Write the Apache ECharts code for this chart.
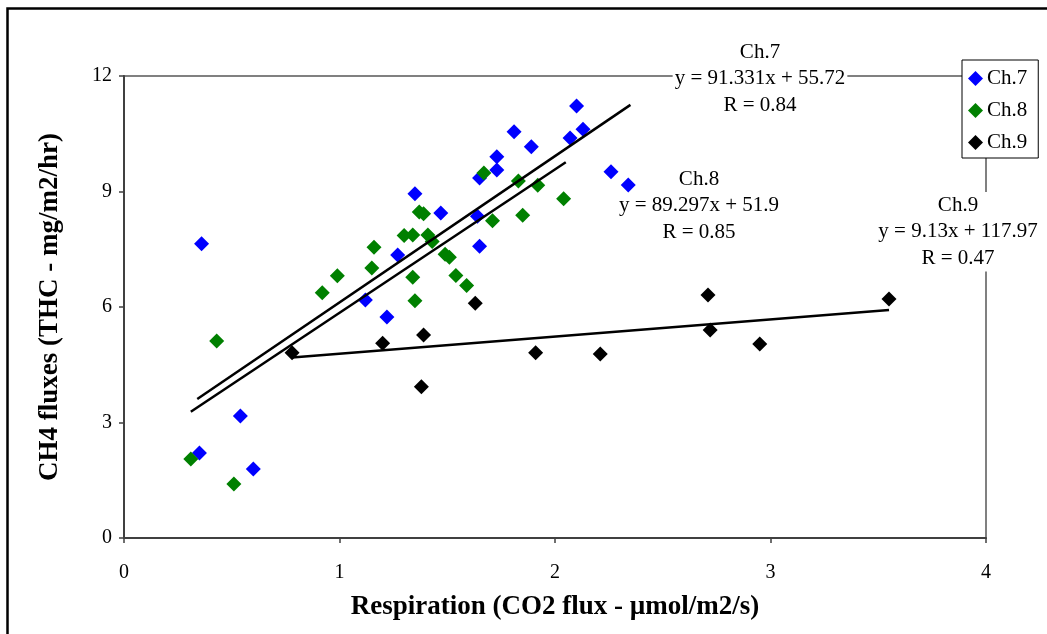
<!DOCTYPE html>
<html>
<head>
<meta charset="utf-8">
<script src="https://cdn.jsdelivr.net/npm/echarts/dist/echarts.min.js"></script>
<style>
  html, body { margin: 0; padding: 0; background: #fff; }
  #chart { width: 1047px; height: 634px; }
</style>
</head>
<body>
<div id="chart"></div>
<script>
// ---- Data ----
const seriesNames = ['Ch.7', 'Ch.8', 'Ch.9'];

const ch7X = [0.36, 0.35, 0.54, 0.60, 1.12, 1.22, 1.27, 1.35, 1.47, 1.64, 1.65, 1.65, 1.73, 1.73, 1.81, 1.89, 2.07, 2.10, 2.13, 2.26, 2.34];
const ch7Y = [7.64, 2.21, 3.17, 1.79, 6.18, 5.74, 7.35, 8.94, 8.44, 8.36, 9.35, 7.58, 9.90, 9.56, 10.55, 10.16, 10.39, 11.22, 10.62, 9.51, 9.17];

const ch8X = [0.31, 0.51, 0.43, 0.92, 0.99, 1.15, 1.16, 1.30, 1.34, 1.34, 1.35, 1.37, 1.39, 1.41, 1.43, 1.49, 1.51, 1.54, 1.59, 1.67, 1.71, 1.83, 1.85, 1.92, 2.04];
const ch8Y = [2.05, 1.40, 5.12, 6.37, 6.81, 7.01, 7.55, 7.86, 7.87, 6.77, 6.16, 8.47, 8.42, 7.87, 7.70, 7.37, 7.29, 6.82, 6.56, 9.48, 8.24, 9.27, 8.38, 9.16, 8.81];

const ch9X = [0.78, 1.20, 1.39, 1.38, 1.63, 1.91, 2.21, 2.71, 2.72, 2.95, 3.55];
const ch9Y = [4.81, 5.06, 5.27, 3.93, 6.10, 4.81, 4.78, 6.31, 5.40, 5.04, 6.21];

// Trend line end points (as drawn in the reference)
const trend7X = [0.34, 2.35];
const trend7Y = [3.61, 11.25];
const trend8X = [0.31, 2.05];
const trend8Y = [3.28, 9.76];
const trend9X = [0.78, 3.55];
const trend9Y = [4.69, 5.92];

const xTicks = [0, 1, 2, 3, 4];
const yTicks = [0, 3, 6, 9, 12];

const label7 = ['Ch.7', 'y = 91.331x + 55.72', 'R = 0.84'];
const label8 = ['Ch.8', 'y = 89.297x + 51.9', 'R = 0.85'];
const label9 = ['Ch.9', 'y = 9.13x + 117.97', 'R = 0.47'];

const xTitle = 'Respiration (CO2 flux - \u00b5mol/m2/s)';
const yTitle = 'CH4 fluxes (THC - mg/m2/hr)';

// ---- Build ----
const zip = (xs, ys) => xs.map((x, i) => [x, ys[i]]);
const FONT = '"Liberation Serif", "Times New Roman", serif';
const colors = ['#0000ff', '#008000', '#000000'];

const chart = echarts.init(document.getElementById('chart'), null, { renderer: 'canvas' });

function scatter(name, data, color) {
  return {
    name, type: 'scatter', data, symbol: 'diamond', symbolSize: 15,
    itemStyle: { color, opacity: 1 }, z: 2, silent: true
  };
}
function trend(data) {
  return {
    type: 'line', data, symbol: 'none', silent: true, z: 3,
    lineStyle: { color: '#000', width: 2.5 }
  };
}
function textBlock(lines, cx, top, bg) {
  return {
    type: 'text', x: cx, y: top, z: 50, silent: true,
    style: {
      text: lines.join('\n'), textAlign: 'center', textVerticalAlign: 'top',
      font: '21px ' + FONT, fill: '#000', lineHeight: 26.5,
      backgroundColor: bg ? '#fff' : 'transparent', padding: [0, 2]
    }
  };
}

const option = {
  backgroundColor: '#fff',
  animation: false,
  grid: {
    left: 124, right: 61, top: 76, bottom: 96,
    show: true, borderColor: '#808080', borderWidth: 2, backgroundColor: '#fff'
  },
  legend: {
    data: seriesNames, orient: 'vertical', left: 962, top: 60,
    backgroundColor: '#fff', borderColor: '#000', borderWidth: 1,
    padding: [8, 11, 5, 6], itemGap: 11, itemWidth: 15, itemHeight: 15,
    icon: 'diamond', z: 60,
    itemStyle: { opacity: 1 },
    textStyle: { fontFamily: FONT, fontSize: 21, color: '#000', padding: [0, 0, 0, -1] }
  },
  xAxis: {
    type: 'value', min: xTicks[0], max: xTicks[xTicks.length - 1], interval: 1,
    name: xTitle, nameLocation: 'middle', nameGap: 56,
    nameTextStyle: { fontFamily: FONT, fontSize: 27, fontWeight: 'bold', color: '#000' },
    axisLine: { show: true, lineStyle: { color: '#404040', width: 2 } },
    axisTick: { show: true, inside: false, length: 5, lineStyle: { color: '#404040', width: 1.5 } },
    axisLabel: { fontFamily: FONT, fontSize: 20, color: '#000', margin: 25 },
    splitLine: { show: false }
  },
  yAxis: {
    type: 'value', min: yTicks[0], max: yTicks[yTicks.length - 1], interval: 3,
    name: yTitle, nameLocation: 'middle', nameGap: 60,
    nameTextStyle: { fontFamily: FONT, fontSize: 27, fontWeight: 'bold', color: '#000' },
    axisLine: { show: true, lineStyle: { color: '#404040', width: 2 } },
    axisTick: { show: true, inside: false, length: 5, lineStyle: { color: '#404040', width: 1.5 } },
    axisLabel: { fontFamily: FONT, fontSize: 20, color: '#000', margin: 12 },
    splitLine: { show: false }
  },
  series: [
    scatter(seriesNames[0], zip(ch7X, ch7Y), colors[0]),
    scatter(seriesNames[1], zip(ch8X, ch8Y), colors[1]),
    scatter(seriesNames[2], zip(ch9X, ch9Y), colors[2]),
    trend(zip(trend7X, trend7Y)),
    trend(zip(trend8X, trend8Y)),
    trend(zip(trend9X, trend9Y))
  ],
  graphic: [
    {
      type: 'rect', left: 5, top: 6, z: 100, silent: true,
      shape: { x: 0, y: 0, width: 1100, height: 700 },
      style: { fill: 'none', stroke: '#000', lineWidth: 2.5 }
    },
    textBlock(label7, 760, 39, true),
    textBlock(label8, 699, 166, false),
    textBlock(label9, 958, 192, true)
  ]
};

chart.setOption(option);
</script>
</body>
</html>
